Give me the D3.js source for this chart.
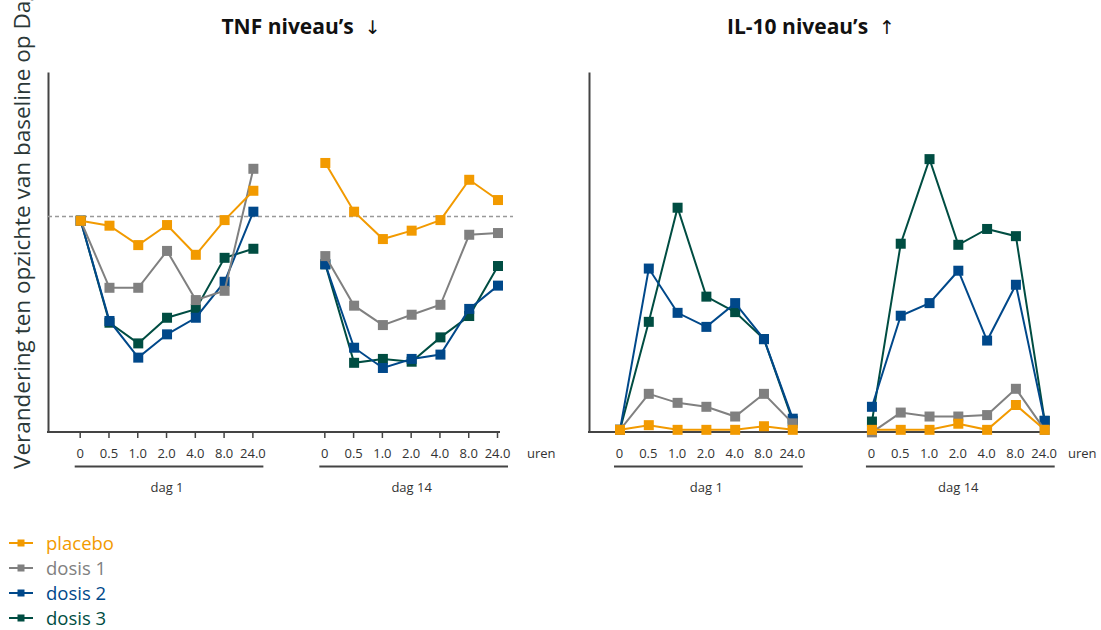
<!DOCTYPE html>
<html lang="nl">
<head>
<meta charset="UTF-8">
<title>TNF en IL-10 niveau's</title>
<script src="https://d3js.org/d3.v7.min.js"></script>
<style>
    body { margin: 0; background: #fff; font-family: 'Open Sans', 'Noto Sans', sans-serif; }
    .title { font-size: 21px; font-weight: bold; fill: #111; }
    .arrow { font-weight: normal; font-family: 'DejaVu Sans', sans-serif; font-size: 19px; fill: #111; }
    .tick text { font-size: 13px; fill: #333; font-family: 'Open Sans', sans-serif; }
    .tick line { stroke: #444; stroke-width: 1.5; }
    .small { font-size: 13px; fill: #333; }
    .ylabel { font-size: 22.5px; fill: #2b3838; }
    .legend text { font-size: 18.5px; }
</style>
</head>
<body>
<svg id="chart" width="1101" height="630"></svg>
<script>
// categories
const hours = ["0", "0.5", "1.0", "2.0", "4.0", "8.0", "24.0"];
const days = ["dag 1", "dag 14"];
const groups = ["placebo", "dosis 1", "dosis 2", "dosis 3"];
const colors = ["#f29a00", "#808080", "#00488a", "#004d42"];

// TNF, % of baseline: dag 1 (7 values) then dag 14 (7 values)
const tnfPlacebo = [98, 95.7, 86.7, 96.0, 82.2, 98.3, 111.9, 124.8, 102.2, 89.5, 93.4, 98.3, 117.0, 107.6];
const tnfDosis1  = [98, 66.9, 66.9, 84.0, 61.2, 65.5, 122.1, 81.6, 58.6, 49.6, 54.4, 59.0, 91.5, 92.3];
const tnfDosis2  = [98, 51.5, 34.5, 45.3, 53.0, 69.7, 102.2, 77.8, 39.1, 29.7, 33.9, 35.9, 57.1, 67.9];
const tnfDosis3  = [98, 50.7, 41.1, 53.0, 57.0, 80.8, 85.0, 77.8, 32.1, 33.9, 32.6, 43.9, 53.8, 77.0];

// IL-10, change from baseline
const ilPlacebo = [0.6, 1.9, 0.6, 0.6, 0.6, 1.6, 0.6, 0.6, 0.6, 0.6, 2.3, 0.6, 7.5, 0.6];
const ilDosis1  = [0.6, 10.6, 8.1, 7.0, 4.3, 10.6, 2.4, -0.1, 5.4, 4.3, 4.3, 4.7, 12.0, 0.6];
const ilDosis2  = [0.6, 45.4, 33.1, 29.2, 35.8, 25.8, 3.7, 7.0, 32.3, 35.8, 44.8, 25.4, 40.9, 3.1];
const ilDosis3  = [0.6, 30.6, 62.3, 37.6, 33.3, 25.8, 3.1, 2.9, 52.3, 75.8, 52.0, 56.4, 54.4, 3.1];

const tnfBaseline = 100;

const svg = d3.select("#chart");
const plotTop = 72, plotBottom = 432;

const panels = [
    {title: "TNF niveau’s", arrow: "↓", titleX: 301, axisX: 48, axisEnd: 500, gap: 8.5,
     x0: 80.7, x1: 498, yMax: 167, series: [tnfPlacebo, tnfDosis1, tnfDosis2, tnfDosis3],
     ticks: true, baseline: tnfBaseline, uren: 527},
    {title: "IL-10 niveau’s", arrow: "↑", titleX: 811, axisX: 589, axisEnd: 1046, gap: 8.75,
     x0: 620, x1: 1044.7, yMax: 100, series: [ilPlacebo, ilDosis1, ilDosis2, ilDosis3],
     ticks: false, baseline: null, uren: 1068}
];

panels.forEach(p => {
    const g = svg.append("g");
    const pos = d3.range(14).map(i => i < 7 ? i : i - 7 + p.gap);
    const x = d3.scaleLinear().domain([0, p.gap + 6]).range([p.x0, p.x1]);
    const y = d3.scaleLinear().domain([0, p.yMax]).range([plotBottom, plotTop]);

    const t = g.append("text").attr("class", "title")
        .attr("x", p.titleX).attr("y", 33.5)
        .attr("text-anchor", "middle");
    t.append("tspan").text(p.title + "\u00a0\u00a0");
    t.append("tspan").attr("class", "arrow").text(p.arrow + "\ufe0e");

    // y axis (line only)
    g.append("g").attr("transform", `translate(${p.axisX},0)`)
        .call(d3.axisLeft(y).tickValues([]).tickSizeOuter(0))
        .select(".domain").attr("stroke", "#444").attr("stroke-width", 2);

    // x axis line
    g.append("line")
        .attr("x1", p.axisX - 1).attr("x2", p.axisEnd)
        .attr("y1", plotBottom).attr("y2", plotBottom)
        .attr("stroke", "#444").attr("stroke-width", 2);

    const xAxis = d3.axisBottom(x)
        .tickValues(pos)
        .tickFormat((d, i) => hours[i % 7])
        .tickSizeOuter(0)
        .tickSizeInner(p.ticks ? 6 : 0)
        .tickPadding(p.ticks ? 11 : 17);
    const xg = g.append("g").attr("transform", `translate(-1,${plotBottom})`).call(xAxis);
    xg.select(".domain").remove();

    g.append("text").attr("class", "small")
        .attr("x", p.uren).attr("y", 458).text("uren");

    // day brackets
    days.forEach((d, k) => {
        const a = x(pos[k * 7]), b = x(pos[k * 7 + 6]);
        g.append("line")
            .attr("x1", a - 6).attr("x2", b + 10)
            .attr("y1", 466.5).attr("y2", 466.5)
            .attr("stroke", "#444").attr("stroke-width", 2);
        g.append("text").attr("class", "small")
            .attr("x", (a + b) / 2).attr("y", 492)
            .attr("text-anchor", "middle").text(d);
    });

    if (p.baseline !== null) {
        g.append("line")
            .attr("x1", p.axisX).attr("x2", 513)
            .attr("y1", y(p.baseline)).attr("y2", y(p.baseline))
            .attr("stroke", "#999").attr("stroke-width", 1.5)
            .attr("stroke-dasharray", "4,3");
    }

    const line = d3.line().x(d => x(d.p)).y(d => y(d.v));
    // draw dosis 3 first so placebo ends on top
    [3, 2, 1, 0].forEach(s => {
        const vals = p.series[s].map((v, i) => ({p: pos[i], v: v}));
        [vals.slice(0, 7), vals.slice(7)].forEach(seg => {
            g.append("path").datum(seg)
                .attr("fill", "none").attr("stroke", colors[s])
                .attr("stroke-width", 2).attr("d", line);
        });
        g.selectAll(null).data(vals).enter().append("rect")
            .attr("x", d => x(d.p) - 5).attr("y", d => y(d.v) - 5)
            .attr("width", 10).attr("height", 10)
            .attr("fill", colors[s]);
    });
});

// y label (cut off at the top, as in the original)
svg.append("text").attr("class", "ylabel")
    .attr("transform", "translate(30,469) rotate(-90)")
    .text("Verandering ten opzichte van baseline op Dag 1");

// legend
const legend = svg.append("g").attr("class", "legend");
groups.forEach((name, i) => {
    const cy = 543 + i * 25;
    legend.append("line").attr("x1", 9).attr("x2", 33)
        .attr("y1", cy).attr("y2", cy)
        .attr("stroke", colors[i]).attr("stroke-width", 2);
    legend.append("rect").attr("x", 17.5).attr("y", cy - 3.5)
        .attr("width", 7).attr("height", 7).attr("fill", colors[i]);
    legend.append("text").attr("x", 46).attr("y", cy + 6.5)
        .attr("fill", colors[i]).text(name);
});
</script>
</body>
</html>
